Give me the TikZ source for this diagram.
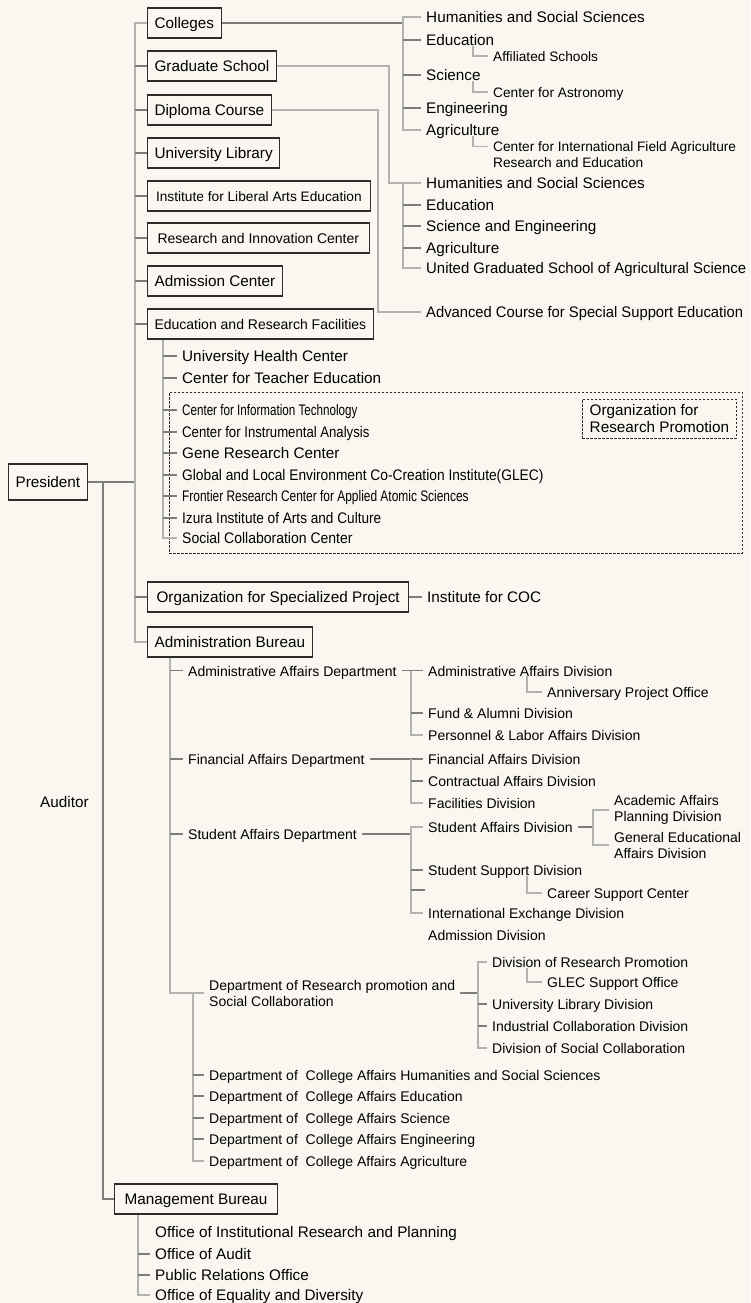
\documentclass[tikz,border=0pt]{standalone}
\usepackage{fontspec}
\setmainfont{Liberation Sans}
\usepackage{graphicx}
\definecolor{chartbg}{RGB}{249,247,240}
\definecolor{stemgray}{RGB}{178,178,178}
\definecolor{tickgray}{RGB}{125,125,125}
\definecolor{boxline}{RGB}{45,45,45}
\newcommand\fmain{\fontsize{15.3}{17}\selectfont}
\newcommand\fmid{\fontsize{14}{16}\selectfont}
\newcommand\fsmall{\fontsize{13.7}{16}\selectfont}

\begin{document}
\begin{tikzpicture}[x=1pt, y=-1pt,
  unitbox/.style={draw=boxline, line width=1.1pt, fill=chartbg, anchor=west, inner xsep=7pt, inner ysep=0pt,
    minimum height=30pt, text height=11pt, text depth=0pt, font=\fmain},
  lbl/.style={anchor=west, inner xsep=5pt, inner ysep=0pt, text height=11pt, text depth=0pt, font=\fmain},
  lblsub/.style={lbl, font=\fsmall},
  lbladm/.style={lbl, font=\fmid},
  lbltwo/.style={anchor=west, inner xsep=5pt, inner ysep=0pt, align=left, font=\fmid},
  zone/.style={draw=boxline, line width=0.9pt, dash pattern=on 2.5pt off 1.5pt},
  stem/.style={draw=stemgray, line width=1.1pt},
  tick/.style={draw=tickgray, line width=1.4pt},
  spine/.style={draw=tickgray, line width=1.8pt}]

  \path[use as bounding box, fill=chartbg] (0,0) rectangle (750,1303);

  % vertical rails
  \coordinate (mainx) at (103,0);
  \coordinate (trunkx) at (135,0);
  \coordinate (mgx) at (138,0);
  \coordinate (facx) at (163,0);
  \coordinate (admx) at (170,0);
  \coordinate (deptx) at (193,0);
  \coordinate (dipx) at (378,0);
  \coordinate (gradx) at (389,0);
  \coordinate (colx) at (403,0);
  \coordinate (divx) at (411,0);
  \coordinate (subx) at (473,0);
  \coordinate (resx) at (478,0);
  \coordinate (minorx) at (527,0);
  \coordinate (acadx) at (593,0);

  \node[unitbox, minimum height=36pt] (president) at (8,482) {President};
  \node[lbl] (auditor) at (35,802) {Auditor};

  \node[unitbox] (colleges) at (147,23) {Colleges};
  \node[unitbox] (grad) at (147,66) {Graduate School};
  \node[unitbox] (diploma) at (147,110) {Diploma Course};
  \node[unitbox] (library) at (147,153) {University Library};
  \node[unitbox, font=\fsmall, inner xsep=8.5pt] (liberal) at (147,196) {Institute for Liberal Arts Education};
  \node[unitbox, font=\fmid, inner xsep=10pt] (innov) at (147,238) {Research and Innovation Center};
  \node[unitbox] (admission) at (147,281) {Admission Center};
  \node[unitbox, font=\fmid] (facilities) at (147,324) {Education and Research Facilities};
  \node[unitbox, inner xsep=9pt] (specproj) at (147,597) {Organization for Specialized Project};
  \node[unitbox] (adminbur) at (147,642) {Administration Bureau};
  \node[unitbox, inner xsep=10pt] (mgmt) at (114,1199) {Management Bureau};

  \node[lbl] (chum) at (421,17) {Humanities and Social Sciences};
  \node[lbl] (cedu) at (421,40) {Education};
  \node[lblsub] (affil) at (488,56) {Affiliated Schools};
  \node[lbl] (csci) at (421,75) {Science};
  \node[lblsub] (astro) at (488,92) {Center for Astronomy};
  \node[lbl] (ceng) at (421,108) {Engineering};
  \node[lbl] (cagr) at (421,130) {Agriculture};
  \node[lbltwo, font=\fsmall, anchor=north west] (cifar) at (488,141.5)
    {Center for International Field Agriculture\\Research and Education};

  \node[lbl] (ghum) at (421,183) {Humanities and Social Sciences};
  \node[lbl] (gedu) at (421,205) {Education};
  \node[lbl] (gse) at (421,226) {Science and Engineering};
  \node[lbl] (gagr) at (421,248) {Agriculture};
  \node[lbl] (gunited) at (421,268) {\scalebox{0.975}[1]{United Graduated School of Agricultural Science}};
  \node[lbl] (advanced) at (421,312) {\scalebox{0.965}[1]{Advanced Course for Special Support Education}};

  \node[lbl] (health) at (177,356) {University Health Center};
  \node[lbl] (teacher) at (177,378) {Center for Teacher Education};
  \node[zone, minimum width=573pt, minimum height=161pt, anchor=north west] (rpzone) at (169,392) {};
  \node[lbl] (cit) at (177,410) {\scalebox{0.76}[1]{Center for Information Technology}};
  \node[lbl] (cia) at (177,432) {\scalebox{0.86}[1]{Center for Instrumental Analysis}};
  \node[lbl] (gene) at (177,453) {Gene Research Center};
  \node[lbl] (glec) at (177,475) {\scalebox{0.9}[1]{Global and Local Environment Co-Creation Institute(GLEC)}};
  \node[lbl] (frontier) at (177,496) {\scalebox{0.78}[1]{Frontier Research Center for Applied Atomic Sciences}};
  \node[lbl] (izura) at (177,518) {\scalebox{0.89}[1]{Izura Institute of Arts and Culture}};
  \node[lbl] (socialcc) at (177,538) {\scalebox{0.915}[1]{Social Collaboration Center}};
  \node[zone, anchor=north west, align=left, inner xsep=6pt, minimum width=154pt, minimum height=39pt, font=\fmain]
    (orgrp) at (582,399) {Organization for\\Research Promotion};

  \node[lbl] (coc) at (422,597) {Institute for COC};

  \node[lbladm] (dadmin) at (183,670.5) {Administrative Affairs Department};
  \node[lbladm] (dfin) at (183,759) {Financial Affairs Department};
  \node[lbladm] (dstud) at (183,834) {Student Affairs Department};
  \node[lbltwo] (dresearch) at (204,993) {Department of Research promotion and\\Social Collaboration};
  \node[lbladm] (dchum) at (204,1075) {Department of~ College Affairs Humanities and Social Sciences};
  \node[lbladm] (dcedu) at (204,1096) {Department of~ College Affairs Education};
  \node[lbladm] (dcsci) at (204,1118) {Department of~ College Affairs Science};
  \node[lbladm] (dceng) at (204,1139) {Department of~ College Affairs Engineering};
  \node[lbladm] (dcagr) at (204,1161) {Department of~ College Affairs Agriculture};

  \node[lbladm] (vadmin) at (423,670.5) {Administrative Affairs Division};
  \node[lbladm] (anniv) at (542,692) {Anniversary Project Office};
  \node[lbladm] (vfund) at (423,713) {Fund \& Alumni Division};
  \node[lbladm] (vperson) at (423,735) {Personnel \& Labor Affairs Division};
  \node[lbladm] (vfin) at (423,759) {Financial Affairs Division};
  \node[lbladm] (vcontract) at (423,781) {Contractual Affairs Division};
  \node[lbladm] (vfac) at (423,803) {Facilities Division};
  \node[lbladm] (vstud) at (423,827) {Student Affairs Division};
  \node[lbltwo] (acad) at (609,810) {Academic Affairs\\Planning Division};
  \node[lbltwo] (gened) at (609,845) {General Educational\\Affairs Division};
  \node[lbladm] (vsupport) at (423,870) {Student Support Division};
  \node[lbladm] (career) at (542,893) {Career Support Center};
  \coordinate (vblank) at (425,890);
  \node[lbladm] (vintl) at (423,913) {International Exchange Division};
  \node[lbladm] (vadmis) at (423,935) {Admission Division};

  \node[lbladm] (rdiv) at (487,962) {Division of Research Promotion};
  \node[lbladm] (glecso) at (542,982) {GLEC Support Office};
  \node[lbladm] (rlib) at (487,1004) {University Library Division};
  \node[lbladm] (rind) at (487,1026) {Industrial Collaboration Division};
  \node[lbladm] (rsoc) at (487,1048) {Division of Social Collaboration};

  \node[lbl] (oirp) at (150,1232) {Office of Institutional Research and Planning};
  \node[lbl] (oaudit) at (150,1254) {Office of Audit};
  \node[lbl] (opr) at (150,1275) {Public Relations Office};
  \node[lbl] (oequal) at (150,1295) {Office of Equality and Diversity};

  % president and bureaus
  \draw[spine] (president.east) -- (president.east -| trunkx);
  \draw[spine] (president.east -| mainx) |- (mgmt.west);
  \draw[stem] (colleges.west) -| (trunkx |- adminbur.west) -- (adminbur.west);
  \foreach \n in {grad,diploma,library,liberal,innov,admission,facilities,specproj}
    \draw[tick] (\n.west) -- (\n.west -| trunkx);

  % colleges
  \draw[tick] (colleges.east) -- (colleges.east -| colx);
  \draw[stem] (chum.west) -| (colx |- cagr.west) -- (cagr.west);
  \foreach \n in {cedu,csci,ceng}
    \draw[tick] (\n.west) -- (\n.west -| colx);
  \draw[stem] (cedu.south -| subx) |- (affil.west);
  \draw[stem] (csci.south -| subx) |- (astro.west);
  \draw[stem] (cagr.south -| subx) |- ([yshift=-5pt]cifar.north west);

  % graduate school and diploma course
  \draw[stem] (grad.east) -| (gradx |- ghum.west) -- (ghum.west);
  \draw[stem] (ghum.west -| colx) |- (gunited.west);
  \foreach \n in {gedu,gse,gagr}
    \draw[tick] (\n.west) -- (\n.west -| colx);
  \draw[stem] (diploma.east) -| (dipx |- advanced.west) -- (advanced.west);

  % facilities
  \draw[stem] (facilities.south -| facx) |- (socialcc.west);
  \foreach \n in {health,teacher,cit,cia,gene,glec,frontier,izura}
    \draw[tick] (\n.west) -- (\n.west -| facx);

  \draw[tick] (specproj.east) -- (coc.west);

  % administration bureau
  \draw[stem] (adminbur.south -| admx) |- (dresearch.west);
  \foreach \n in {dadmin,dfin,dstud}
    \draw[tick] (\n.west) -- (\n.west -| admx);
  \draw[stem] (dresearch.west -| deptx) |- (dcagr.west);
  \foreach \n in {dchum,dcedu,dcsci,dceng}
    \draw[tick] (\n.west) -- (\n.west -| deptx);

  \draw[tick] (dadmin.east) -- (vadmin.west);
  \draw[stem] (vadmin.west -| divx) |- (vperson.west);
  \draw[tick] (vfund.west) -- (vfund.west -| divx);
  \draw[stem] (vadmin.south -| minorx) |- (anniv.west);

  \draw[tick] (dfin.east) -- (vfin.west);
  \draw[stem] (vfin.west -| divx) |- (vfac.west);
  \draw[tick] (vcontract.west) -- (vcontract.west -| divx);

  \draw[tick] (dstud.east) -- (dstud.east -| divx);
  \draw[stem] (vstud.west) -| (divx |- vintl.west) -- (vintl.west);
  \draw[tick] (vsupport.west) -- (vsupport.west -| divx);
  \draw[tick] (vblank) -- (vblank -| divx);
  \draw[stem] (vsupport.south -| minorx) |- (career.west);
  \draw[tick] (vstud.east) -- (vstud.east -| acadx);
  \draw[stem] (acad.west) -| (acadx |- gened.west) -- (gened.west);

  \draw[tick] (dresearch.east) -- (dresearch.east -| resx);
  \draw[stem] (rdiv.west) -| (resx |- rsoc.west) -- (rsoc.west);
  \foreach \n in {rlib,rind}
    \draw[tick] (\n.west) -- (\n.west -| resx);
  \draw[stem] (rdiv.south -| minorx) |- (glecso.west);

  % management bureau
  \draw[stem] (mgmt.south -| mgx) |- (oequal.west);
  \foreach \n in {oaudit,opr}
    \draw[tick] (\n.west) -- (\n.west -| mgx);
\end{tikzpicture}
\end{document}
